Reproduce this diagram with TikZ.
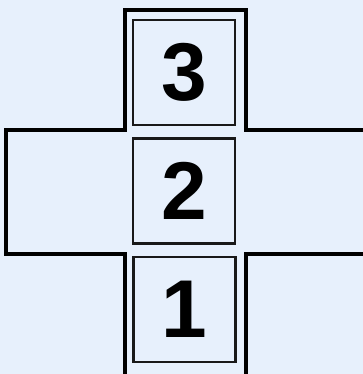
\documentclass[tikz,border=0pt]{standalone}
\usepackage{fontspec}
\setmainfont{Liberation Sans}
\definecolor{bg}{RGB}{231,240,252}
\begin{document}
\begin{tikzpicture}[x=1pt,y=-1pt,
  cell/.style={draw=black!90, line width=2.4pt, minimum width=102pt, minimum height=105pt,
    inner sep=0pt, font=\fontsize{82}{82}\selectfont\bfseries},
  outline/.style={draw=black, line width=4.5pt, line join=miter}]
\useasboundingbox (0,0) rectangle (363,374);
\fill[bg] (0,0) rectangle (363,374);
\draw[outline] (125,390) -- (125,254) -- (6,254) -- (6,130) -- (125,130) -- (125,10)
  -- (246,10) -- (246,130) -- (365,130) -- (365,254) -- (246,254) -- (246,390);
\node[cell] (c3) at (184,72.5) {3};
\node[cell] (c2) at (184,191) {2};
\node[cell] (c1) at (184.5,309.5) {1};
\end{tikzpicture}
\end{document}
